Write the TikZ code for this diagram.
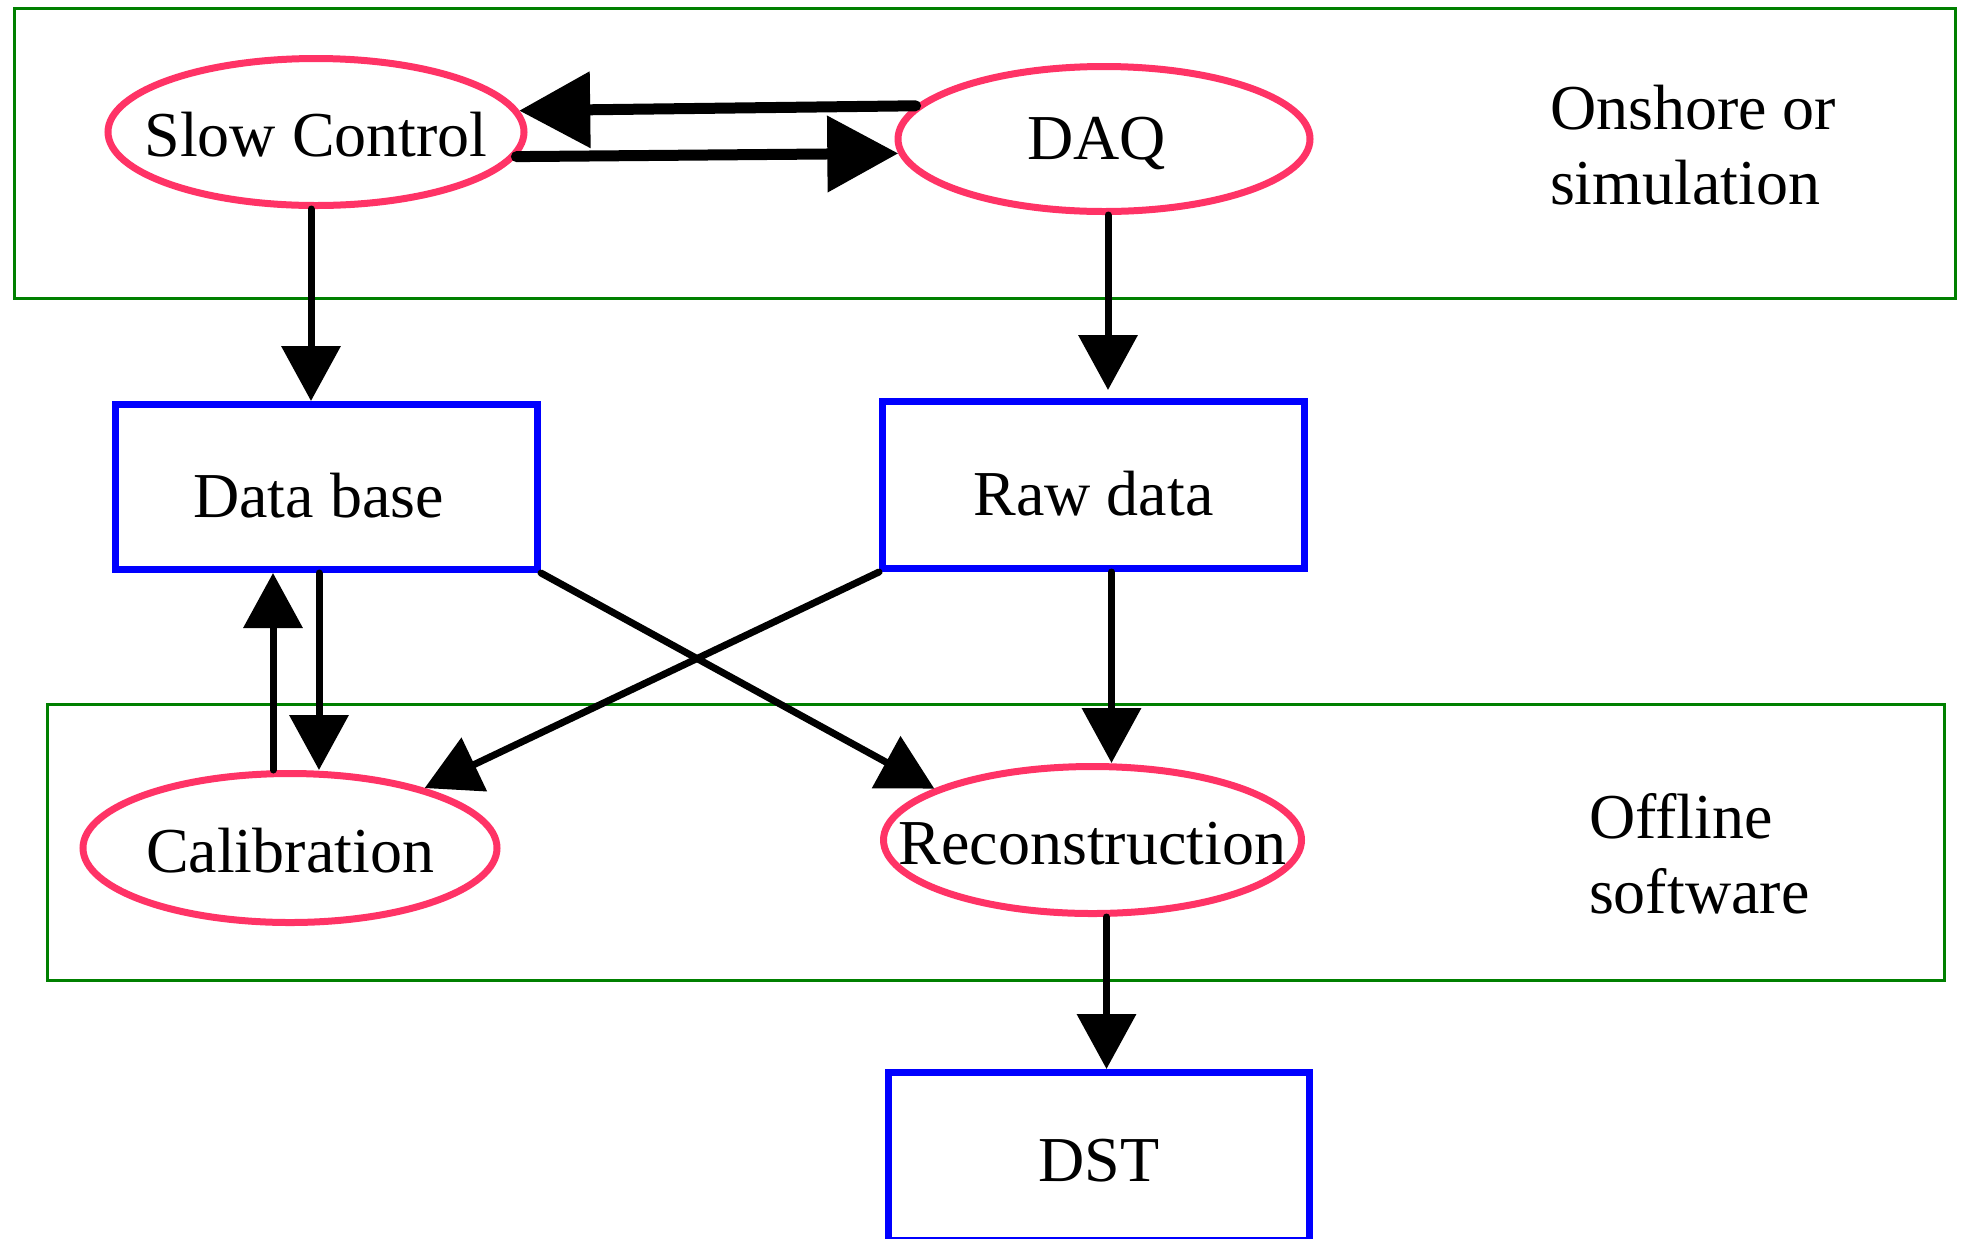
\documentclass[tikz,border=0pt]{standalone}
\usepackage{fontspec}
\setmainfont{Liberation Serif}
\usetikzlibrary{arrows.meta,shapes.geometric,calc}
\definecolor{zonegreen}{RGB}{0,128,0}
\definecolor{procpink}{RGB}{255,51,102}
\definecolor{storeblue}{RGB}{0,0,255}

\begin{document}
\begin{tikzpicture}[x=0.5pt,y=-0.5pt,
  every node/.style={font=\fontsize{32}{37.5}\selectfont},
  proc/.style={ellipse, draw=procpink, line width=3.5pt, inner sep=0pt,
    text height=24pt, text depth=0pt},
  store/.style={rectangle, draw=storeblue, line width=3.5pt, inner sep=0pt,
    text height=30pt, text depth=0pt},
  zone/.style={draw=zonegreen, line width=1.5pt},
  flow/.style={-{Triangle[length=27.5pt,width=29pt]}, line width=3.5pt, line cap=round},
  bigflow/.style={-{Triangle[length=35.5pt,width=37pt]}, line width=5.5pt, line cap=round},
]
\useasboundingbox (0,0) rectangle (1963,1238);

% grouping frames
\draw[zone] (14,8) rectangle (1955,298);
\draw[zone] (47,704) rectangle (1944,980);

% processes and data stores
\node[proc, minimum width=208pt, minimum height=73.5pt] (sc) at (316,132) {\makebox[0pt]{Slow Control}};
\node[proc, minimum width=206pt, minimum height=72.5pt] (daq) at (1104,139) {\makebox[0pt]{\raisebox{2pt}{DAQ}\hspace*{7.5pt}}};
\node[store, minimum width=211pt, minimum height=82.5pt] (db) at (326.5,487) {\makebox[0pt]{\hspace*{-8pt}Data base}};
\node[store, minimum width=211pt, minimum height=83.5pt] (raw) at (1093.5,485) {Raw data};
\node[proc, minimum width=207pt, minimum height=74.5pt] (cal) at (290,848) {\makebox[0pt]{Calibration}};
\node[proc, minimum width=209pt, minimum height=73.5pt] (rec) at (1092.5,840) {\makebox[0pt]{Reconstruction}};
\node[store, minimum width=210.5pt, minimum height=84pt] (dst) at (1099,1156.5) {\raisebox{2.5pt}{DST}};

% frame captions
\node[anchor=base west, align=left] (onshore) at (1543,204) {Onshore or\\simulation};
\node[anchor=base west, align=left] (offline) at (1582,913) {Offline\\software};

% connector start points
\path (sc.south) ++(-5,0) coordinate (scout);
\path (daq.south) ++(4,0) coordinate (daqout);
\path (db.south) ++(-7.5,0) coordinate (dbout);
\path (cal.north) ++(-17,0) coordinate (calout);
\path (raw.south) ++(18,0) coordinate (rawout);
\path (rec.south) ++(14,0) coordinate (recout);

% flows
\draw[bigflow] (daq.170) -- (sc.6);
\draw[bigflow] (sc.-7) -- (daq.184);
\draw[flow] (scout) -- (scout |- db.north);
\draw[flow, shorten >=4pt] (daqout) -- (daqout |- raw.north);
\draw[flow] (dbout) -- (dbout |- cal.north);
\draw[flow] (calout) -- (calout |- db.south);
\draw[flow] (db.south east) -- (rec.162);
\draw[flow] (raw.south west) -- (cal.24);
\draw[flow] (rawout) -- (rawout |- rec.north);
\draw[flow] (recout) -- (recout |- dst.north);
\end{tikzpicture}
\end{document}
